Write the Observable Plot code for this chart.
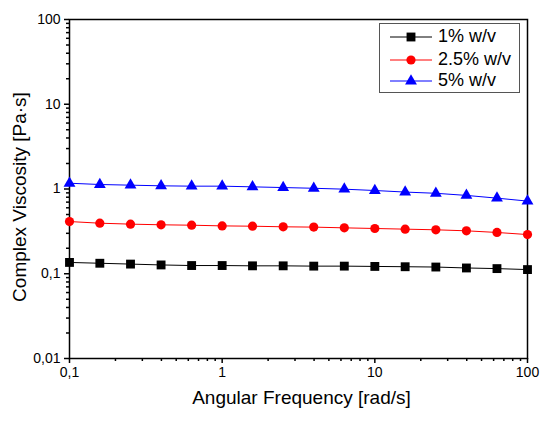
<!DOCTYPE html>
<html>
<head>
<meta charset="utf-8">
<script src="https://cdn.jsdelivr.net/npm/d3@7"></script>
<script src="https://cdn.jsdelivr.net/npm/@observablehq/plot@0.6"></script>
<style>
  body { margin: 0; background: #fff; font-family: "Liberation Sans", Arial, sans-serif; }
  #wrap { position: relative; width: 550px; height: 421px; }
  #legend { position: absolute; left: 379px; top: 23px; width: 139px; height: 68px;
            border: 1px solid #555; background: #fff; }
  .row { position: absolute; left: 9px; display: flex; align-items: center; font-size: 18px; color: #000; }
  .row svg { margin-right: 5px; }
</style>
</head>
<body>
<div id="wrap">
  <div id="chart"></div>
  <div id="legend"></div>
</div>
<script>
// angular frequency, rad/s
const freq = [0.1, 0.158, 0.251, 0.398, 0.631, 1, 1.58, 2.51, 3.98, 6.31, 10, 15.8, 25.1, 39.8, 63.1, 100];
// complex viscosity, Pa·s
const visc1 = [0.136, 0.133, 0.130, 0.127, 0.125, 0.125, 0.124, 0.124, 0.123, 0.123, 0.122, 0.121, 0.120, 0.117, 0.115, 0.112];
const visc25 = [0.413, 0.395, 0.385, 0.378, 0.374, 0.367, 0.364, 0.358, 0.355, 0.348, 0.342, 0.336, 0.330, 0.321, 0.307, 0.290];
const visc5 = [1.17, 1.13, 1.11, 1.09, 1.08, 1.08, 1.06, 1.04, 1.02, 0.995, 0.96, 0.92, 0.89, 0.84, 0.78, 0.72];

const seriesNames = ["1% w/v", "2.5% w/v", "5% w/v"];
const seriesColors = ["#000000", "#ff0000", "#0000ff"];
const seriesSymbols = ["square", "circle", "triangle"];
const seriesR = [5, 4.6, 4.4];
const xTicks = [0.1, 1, 10, 100];
const yTicks = [0.01, 0.1, 1, 10, 100];

const rows = [visc1, visc25, visc5].flatMap((vals, s) =>
  vals.map((v, i) => ({ series: s, x: freq[i], y: v })));

const fmt = d => String(d).replace(".", ",");
const minorX = d3.scaleLog().domain([0.1, 100]).ticks().filter(t => !xTicks.includes(+t.toPrecision(6)));
const minorY = d3.scaleLog().domain([0.01, 100]).ticks().filter(t => !yTicks.includes(+t.toPrecision(6)));

const marks = [Plot.frame({ stroke: "#000", strokeWidth: 1.5 })];
[0, 1, 2].forEach(s => {
  const data = rows.filter(r => r.series === s);
  marks.push(Plot.line(data, { x: "x", y: "y", stroke: seriesColors[s], strokeWidth: 1 }));
  marks.push(Plot.dot(data, { x: "x", y: "y", symbol: () => seriesSymbols[s], fill: seriesColors[s], r: seriesR[s] }));
});

const plot = Plot.plot({
  width: 550,
  height: 421,
  marginLeft: 69,
  marginRight: 23,
  marginTop: 19,
  marginBottom: 63,
  style: { fontFamily: '"Liberation Sans", Arial, sans-serif', color: "#000", background: "#fff" },
  x: { type: "log", domain: [0.1, 100] },
  y: { type: "log", domain: [0.01, 100] },
  symbol: { type: "identity" },
  marks: [
    Plot.axisX({ ticks: xTicks, tickFormat: fmt, tickSize: 5, tickPadding: 4, fontSize: 14, strokeWidth: 1.5, label: null }),
    Plot.axisX({ ticks: minorX, tickFormat: () => "", tickSize: 3, strokeWidth: 1.5, label: null }),
    Plot.axisY({ ticks: yTicks, tickFormat: fmt, tickSize: 5, tickPadding: 4, fontSize: 14, strokeWidth: 1.5, label: null }),
    Plot.axisY({ ticks: minorY, tickFormat: () => "", tickSize: 3, strokeWidth: 1.5, label: null }),
    ...marks,
    Plot.text(["Angular Frequency [rad/s]"], { frameAnchor: "bottom", dx: 3, dy: 45, fontSize: 19 }),
    Plot.text(["Complex Viscosity [Pa·s]"], { frameAnchor: "left", textAnchor: "middle", rotate: -90, dx: -50, dy: 8, fontSize: 19 })
  ]
});
document.getElementById("chart").append(plot);

// legend
const legend = document.getElementById("legend");
const rowTops = [2, 25, 46];
seriesNames.forEach((name, s) => {
  const row = document.createElement("div");
  row.className = "row";
  row.style.top = rowTops[s] + "px";
  const path = d3.symbol(s === 0 ? d3.symbolSquare : s === 1 ? d3.symbolCircle : d3.symbolTriangle,
    Math.PI * seriesR[s] * seriesR[s])();
  row.innerHTML =
    `<svg width="44" height="20"><line x1="1" x2="43" y1="10" y2="10" stroke="${seriesColors[s]}" stroke-width="1"/>` +
    `<path d="${path}" transform="translate(22,10)" fill="${seriesColors[s]}"/></svg><span>${name}</span>`;
  legend.append(row);
});
</script>
</body>
</html>
